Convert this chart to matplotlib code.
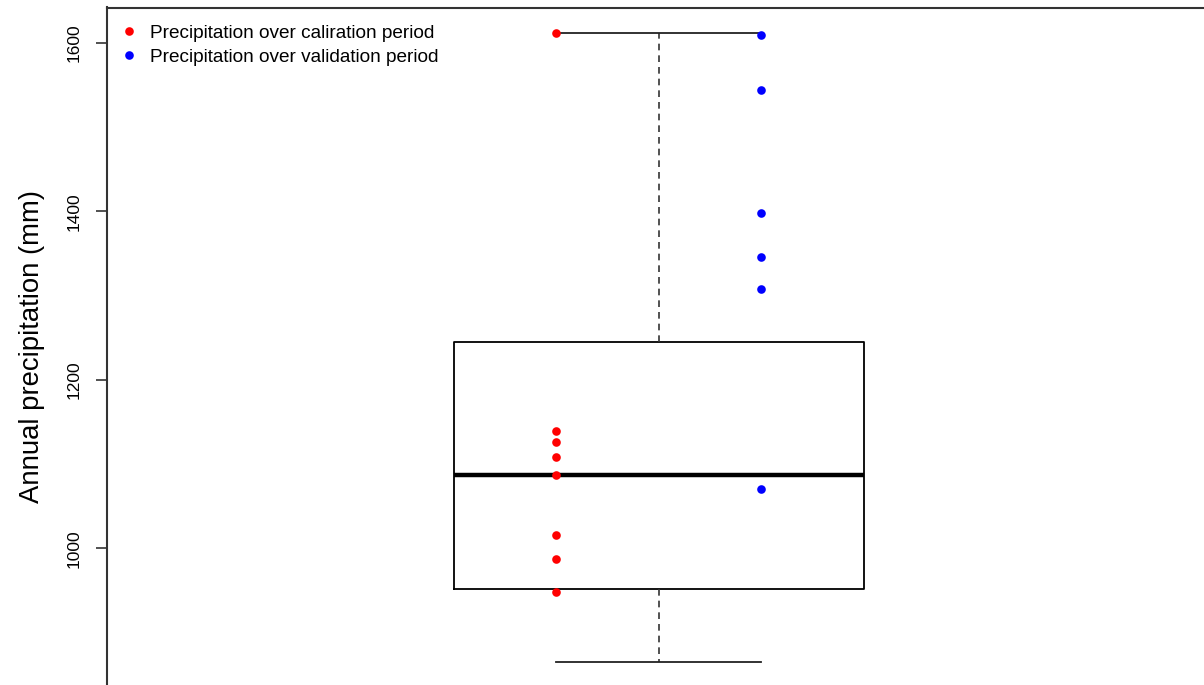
import numpy as np
import matplotlib.pyplot as plt

plt.rcParams['font.family'] = ['Liberation Sans', 'DejaVu Sans']

# annual precipitation (mm)
cal_precip = [1611.6, 1139.6, 1126.2, 1108.0, 1087.4, 1015.8, 986.9, 948.1]
val_precip = [1609.3, 1544.0, 1398.0, 1345.8, 1307.8, 1070.4]

# box summary of the full record
box_low = 864.7
box_q1 = 951.3
box_med = 1086.6
box_q3 = 1244.5
box_high = 1612.0

yticks = [1000, 1200, 1400, 1600]

fig = plt.figure(figsize=(12.04, 6.85), dpi=100)
ax = fig.add_axes([106.5 / 1204, 0.0, 1 - 106.5 / 1204, (685 - 7.5) / 685])

stats = [{'med': box_med, 'q1': box_q1, 'q3': box_q3,
          'whislo': box_low, 'whishi': box_high, 'fliers': []}]
ax.bxp(stats, positions=[1], widths=0.8, capwidths=0.4, showfliers=False,
       boxprops=dict(color='black', linewidth=1.3),
       medianprops=dict(color='black', linewidth=3.2),
       whiskerprops=dict(color='#333333', linewidth=1.2, linestyle=(0, (4, 3))),
       capprops=dict(color='#222222', linewidth=1.3))

ax.plot(np.full(len(cal_precip), 0.8), cal_precip, 'o', color='red', ms=6.2,
        mec='none', label='Precipitation over caliration period', zorder=5)
ax.plot(np.full(len(val_precip), 1.2), val_precip, 'o', color='blue', ms=6.2,
        mec='none', label='Precipitation over validation period', zorder=5)

ax.set_xlim(-0.0786, 2.0645)
ax.set_ylim(837.7, 1641.9)
ax.set_yticks(yticks)
ax.set_yticklabels([str(t) for t in yticks], rotation=90, va='center')
ax.set_xticks([])
ax.tick_params(axis='y', length=8, width=1.2, color='#333333', labelsize=12.5, pad=10)

for s in ['left', 'top']:
    ax.spines[s].set_color('#333333')
    ax.spines[s].set_linewidth(1.5)
ax.spines['right'].set_visible(False)
ax.spines['bottom'].set_visible(False)

ax.set_ylabel('Annual precipitation (mm)', fontsize=19.8)
ax.yaxis.set_label_coords(-0.056, 0.5)

ax.legend(loc='upper left', frameon=False, fontsize=13.7, handlelength=0.6,
          handletextpad=0.8, borderaxespad=0.3, labelspacing=0.38,
          bbox_to_anchor=(0.003, 0.995))

fig.savefig('out.png', dpi=100)
